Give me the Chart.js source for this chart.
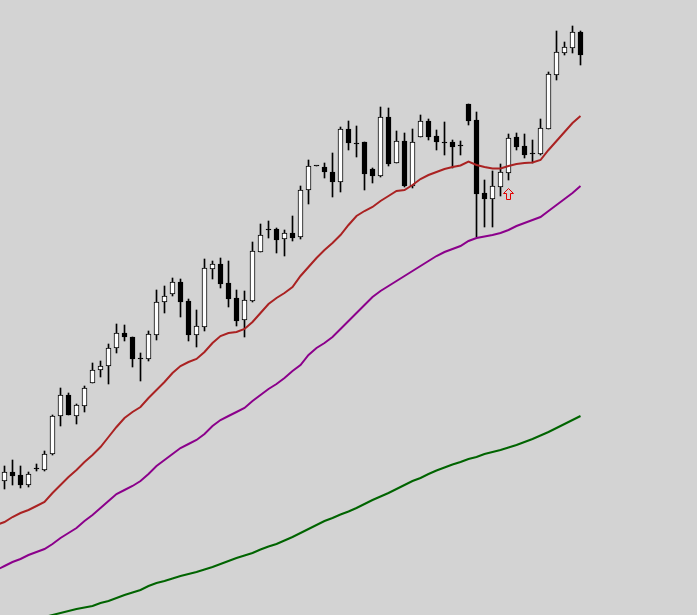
<!DOCTYPE html>
<html>
<head>
<meta charset="utf-8">
<script src="https://cdn.jsdelivr.net/npm/chart.js@4/dist/chart.umd.min.js"></script>
<style>
    html, body { margin: 0; padding: 0; background: #d3d3d3; }
    canvas { display: block; background: #d3d3d3; }
</style>
</head>
<body>
<canvas id="priceChart" width="697" height="615"></canvas>
<script>
// =========================================
// Price data (points)
// =========================================

const opens = [
    134, 143, 140, 130, 147, 145, 161, 199, 220, 199,
    209, 232, 245, 249, 267, 282, 278, 257, 256, 280,
    313, 321, 333, 314, 280, 288, 346, 351, 332, 317,
    295, 314, 363, 385.5, 386, 376, 382, 378, 425, 449,
    448, 443, 433, 486, 472, 473, 446, 439, 498, 452,
    474, 429, 478, 494, 479, 473, 473, 469.5, 511, 495,
    422, 416, 428, 442, 478, 469, 461.5, 461, 486, 540,
    562, 567, 583
];

const highs = [
    149, 155, 149, 143, 151, 164, 200, 227, 222, 211,
    229, 252, 254, 271, 291, 290, 278, 262, 284, 325,
    329, 337, 336, 316, 305, 356, 354, 357, 354, 325,
    324, 373, 391, 394, 387, 385, 399, 429, 455, 449,
    452, 462, 488, 494, 489, 473, 447, 508, 507, 484,
    482, 486, 500, 496, 485, 493, 475, 474, 511, 503,
    435, 444, 451, 481, 482, 481, 475, 496, 543, 584,
    573, 589, 584
];

const lows = [
    126, 130, 127, 128, 144, 144, 160, 189, 200, 191,
    203, 232, 238, 231, 262, 274, 248, 234, 254, 275,
    302, 319, 298, 274, 268, 284, 336, 327, 308, 289,
    278, 313, 363, 377, 362, 359, 374, 376, 411, 449,
    437, 418, 423, 465, 458, 425, 432, 438, 449, 452,
    428, 427, 478, 475, 465, 460, 447, 460, 490, 378,
    388, 388, 419, 435, 465, 457, 452, 460, 486, 535,
    560, 562, 550
];

const closes = [
    143, 139, 130, 141, 146, 161, 199, 220, 200, 210,
    227, 245, 249, 267, 282, 278, 256, 256.5, 281, 313,
    319, 333, 313, 280, 289, 347, 351, 331, 316, 294,
    315, 364, 380, 385, 375, 382, 377, 425, 449, 449,
    443, 433, 486, 472, 471.5, 441, 439, 498, 451, 474,
    429, 473, 494, 478, 473, 472.5, 468, 469, 494, 421,
    416, 429, 443, 477, 468, 460, 461, 487, 541, 563,
    568, 583, 560
];

// moving averages start one bar before the first candle
const maStart = -1;

const maRed = [
    90, 93, 98, 102, 105, 109, 113, 122, 130, 138,
    145, 153, 160, 168, 178, 188, 197, 203, 208, 217,
    225, 233, 242, 249, 253, 256, 263, 272, 279, 282,
    283, 286, 293, 302, 311, 317, 322, 328, 339, 348,
    357, 365, 372, 380, 390, 399, 404, 408, 414, 419,
    424, 425, 430, 436, 440, 443, 446, 448, 449.5, 453.5,
    450, 448, 446.5, 446.5, 449, 451, 452, 452.5, 455, 465,
    474, 483, 492, 499
];

const maPurple = [
    45, 49, 53, 56, 60, 63, 66, 71, 77, 82,
    87, 94, 100, 107, 114, 121, 125, 129, 134, 141,
    149, 155, 161, 167, 171, 175, 181, 189, 195, 199,
    203, 207, 214, 220, 226, 231, 237, 244, 250, 260,
    267, 272, 278, 286, 294, 302, 310, 318, 324, 329,
    334, 339, 344, 349, 354, 359, 363, 366, 369, 374,
    377, 378.5, 380, 382, 385, 389, 392, 395, 398, 404,
    410, 416, 422, 429
];

const maGreen = [
    -15, -13, -11, -9, -6, -4, -2, 0, 2, 4,
    6, 7.5, 9, 12, 14, 17, 20, 22.5, 25, 29,
    32, 34, 36.5, 39, 41, 43, 45.5, 48, 51, 54,
    57, 59.5, 62, 65.5, 68.5, 71, 74.5, 78, 82, 86,
    90, 94, 97, 100.5, 103.5, 107, 111, 115, 118.5, 122,
    126, 130, 134, 137, 141, 144.5, 147.5, 150.5, 153, 156,
    158, 161, 163, 165, 167.5, 170, 173, 176, 179.5, 183,
    187, 191, 195, 199
];

// buy signal arrow under a bar
const signalBars = [63];
const signalLevels = [421];


// =========================================
// Build datasets
// =========================================

const wickData = [];
const bodyData = [];
const bodyColors = [];

for (let i = 0; i < opens.length; i++) {

    wickData.push({ x: i, y: [lows[i], highs[i]] });

    let lo = Math.min(opens[i], closes[i]);
    let hi = Math.max(opens[i], closes[i]);

    // doji: keep a one point body so it still shows
    if (hi - lo < 1) {
        lo = Math.floor(lo);
        hi = lo + 1;
    }

    bodyData.push({ x: i, y: [lo, hi] });

    bodyColors.push(closes[i] > opens[i] ? "#ffffff" : "#000000");
}

function maPoints(values) {
    return values.map((v, k) => ({ x: maStart + k, y: v }));
}

const signalData =
    signalBars.map((b, k) => ({ x: b, y: signalLevels[k] }));

// outlined up arrow used as point style
const arrowIcon = document.createElement("canvas");
arrowIcon.width = 11;
arrowIcon.height = 12;
{
    const c = arrowIcon.getContext("2d");
    c.strokeStyle = "#e00000";
    c.lineWidth = 1;
    c.beginPath();
    c.moveTo(5.5, 0.5);
    c.lineTo(10.5, 5.5);
    c.lineTo(7.5, 5.5);
    c.lineTo(7.5, 11.5);
    c.lineTo(3.5, 11.5);
    c.lineTo(3.5, 5.5);
    c.lineTo(0.5, 5.5);
    c.closePath();
    c.stroke();
}


// =========================================
// Chart
// =========================================

const W = 697;
const H = 615;
const barStep = 8;
const xMin = -4.5 / barStep;

new Chart(document.getElementById("priceChart"), {

    type: "bar",

    data: {

        datasets: [
            {
                type: "scatter",
                data: signalData,
                pointStyle: arrowIcon,
                pointRadius: 6,
                order: 0
            },
            {
                type: "line",
                data: maPoints(maRed),
                borderColor: "#aa2222",
                borderWidth: 2,
                pointRadius: 0,
                tension: 0,
                order: 1
            },
            {
                type: "line",
                data: maPoints(maPurple),
                borderColor: "#8b008b",
                borderWidth: 2,
                pointRadius: 0,
                tension: 0,
                order: 1
            },
            {
                type: "line",
                data: maPoints(maGreen),
                borderColor: "#006400",
                borderWidth: 2,
                pointRadius: 0,
                tension: 0,
                order: 1
            },
            {
                data: bodyData,
                backgroundColor: bodyColors,
                borderColor: "#000000",
                borderWidth: 1,
                borderSkipped: false,
                barThickness: 5,
                grouped: false,
                order: 2
            },
            {
                data: wickData,
                backgroundColor: "#000000",
                borderWidth: 0,
                barThickness: 1,
                grouped: false,
                order: 3
            }
        ]
    },

    options: {

        responsive: false,
        animation: false,
        devicePixelRatio: 1,

        layout: { padding: 0, autoPadding: false },

        scales: {
            x: {
                type: "linear",
                display: false,
                offset: false,
                min: xMin,
                max: xMin + W / barStep
            },
            y: {
                type: "linear",
                display: false,
                min: 0,
                max: H
            }
        },

        plugins: {
            legend: { display: false },
            tooltip: { enabled: false }
        }
    }
});
</script>
</body>
</html>
